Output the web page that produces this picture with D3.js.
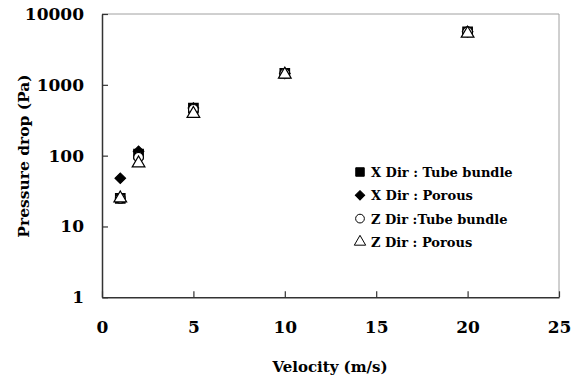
<!DOCTYPE html>
<html>
<head>
<meta charset="utf-8">
<script src="https://cdn.jsdelivr.net/npm/d3@7"></script>
<style>
  body { margin: 0; background: #fff; }
  svg text { font-family: "DejaVu Serif", serif; font-weight: bold; }
</style>
</head>
<body>
<div id="chart"></div>
<script>
// velocity (m/s) and pressure drop (Pa)
const velocity = [1, 2, 5, 10, 20];
const xDirTube = [25, 105, 470, 1450, 5600];
const xDirPorous = [48, 115, 470, 1450, 5600];
const zDirTube = [25, 95, 450, 1450, 5600];
const zDirPorous = [25, 78, 390, 1400, 5300];

const xTicks = [0, 5, 10, 15, 20, 25];
const yTicks = [1, 10, 100, 1000, 10000];

const legendLabels = ["X Dir : Tube bundle", "X Dir : Porous", "Z Dir :Tube bundle", "Z Dir : Porous"];

const serif = '"DejaVu Serif", serif';

let margin = { top: 14, right: 20, bottom: 88, left: 102 };
let width = 579, height = 385;

let svg = d3.select("#chart")
  .append("svg")
  .attr("width", width)
  .attr("height", height);

let x = d3.scaleLinear()
  .domain([0, 25])
  .range([margin.left, 559]);

let y = d3.scaleLog()
  .domain([1, 10000])
  .range([297.3, margin.top]);

// plot frame: top & right in grey
svg.append("path")
  .attr("d", "M" + x(0) + "," + y(10000) + "H" + x(25) + "V" + y(1))
  .attr("fill", "none")
  .attr("stroke", "#a0a0a0")
  .attr("stroke-width", 1);

let xAxis = svg.append("g")
  .attr("transform", "translate(0," + y(1) + ")")
  .call(d3.axisBottom(x).tickValues(xTicks).tickSizeInner(-6).tickSizeOuter(0).tickPadding(24));

let yAxis = svg.append("g")
  .attr("transform", "translate(" + x(0) + ",0)")
  .call(d3.axisLeft(y).tickValues(yTicks).tickFormat(d3.format("d")).tickSizeInner(-6).tickSizeOuter(0).tickPadding(18));

[xAxis, yAxis].forEach(function (a) {
  a.attr("font-family", serif);
  a.select(".domain").attr("stroke", "#333").attr("stroke-width", 1.5);
  a.selectAll(".tick line").attr("stroke", "#333").attr("stroke-width", 1.2);
  a.selectAll(".tick text")
    .attr("fill", "#000")
    .style("font-family", serif)
    .style("font-weight", "bold")
    .style("font-size", "17px");
});

// axis titles
svg.append("text")
  .attr("x", 330)
  .attr("y", 372)
  .attr("text-anchor", "middle")
  .style("font-size", "15px")
  .text("Velocity (m/s)");

svg.append("text")
  .attr("transform", "translate(29,156) rotate(-90)")
  .attr("text-anchor", "middle")
  .style("font-size", "15.5px")
  .text("Pressure drop (Pa)");

// marker shapes
const shapes = [
  { sym: d3.symbolSquare, size: 90, rot: 0, fill: "#000" },
  { sym: d3.symbolSquare, size: 55, rot: 45, fill: "#000" },
  { sym: d3.symbolCircle, size: 75, rot: 0, fill: "#fff" },
  { sym: d3.symbolTriangle, size: 70, rot: 0, fill: "#fff" }
];
const series = [xDirTube, xDirPorous, zDirTube, zDirPorous];

series.forEach(function (vals, i) {
  let s = shapes[i];
  svg.append("g")
    .selectAll("path")
    .data(vals)
    .enter()
    .append("path")
    .attr("transform", function (d, j) {
      return "translate(" + x(velocity[j]) + "," + y(d) + ") rotate(" + s.rot + ")";
    })
    .attr("d", d3.symbol().type(s.sym).size(s.size))
    .attr("fill", s.fill)
    .attr("stroke", "#000")
    .attr("stroke-width", 1.2);
});

// legend
let legend = svg.append("g")
  .attr("transform", "translate(360,172)");

legendLabels.forEach(function (label, i) {
  let s = shapes[i];
  let row = legend.append("g")
    .attr("transform", "translate(0," + (i * 23.3) + ")");
  row.append("path")
    .attr("transform", "rotate(" + s.rot + ")")
    .attr("d", d3.symbol().type(s.sym).size(s.size * 0.8))
    .attr("fill", s.fill)
    .attr("stroke", "#000")
    .attr("stroke-width", 1);
  row.append("text")
    .attr("x", 11)
    .attr("y", 5)
    .style("font-size", "13px")
    .text(label);
});
</script>
</body>
</html>
